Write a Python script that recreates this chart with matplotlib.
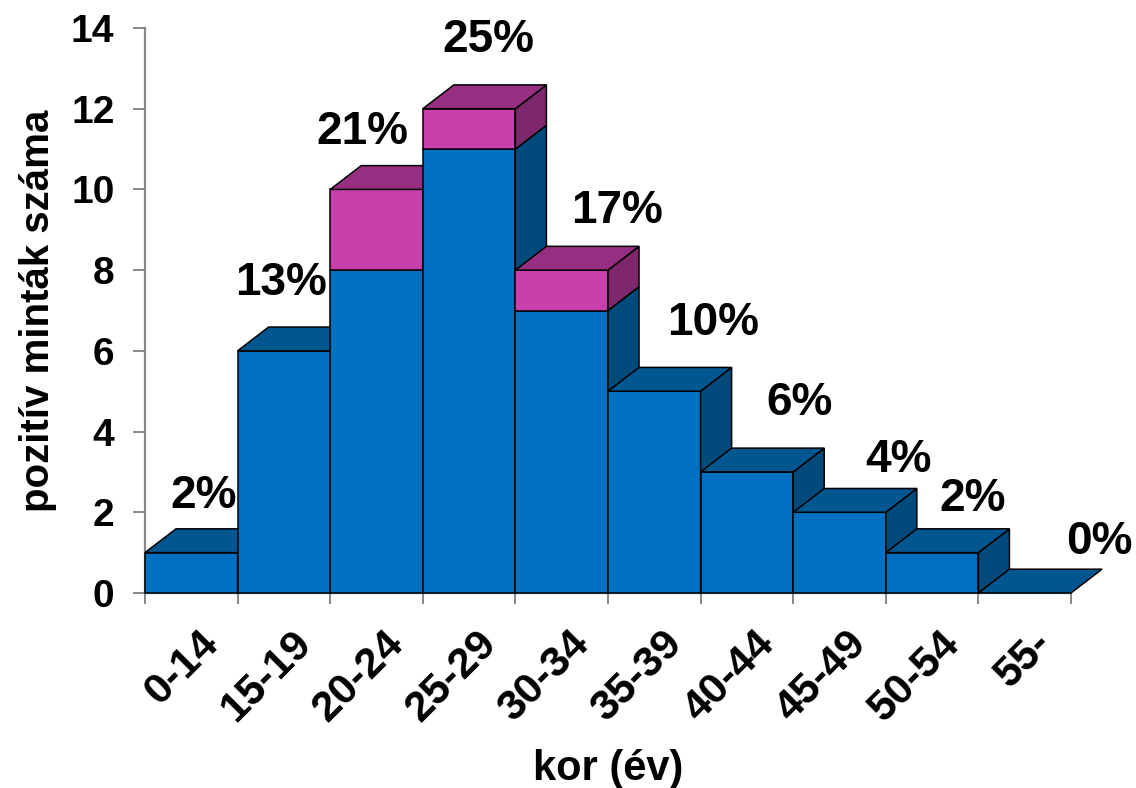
import numpy as np
import matplotlib.pyplot as plt
from matplotlib.patches import Polygon
import matplotlib.transforms as mtransforms

plt.rcParams['font.family'] = ['Liberation Sans', 'DejaVu Sans']
plt.rcParams['font.weight'] = 'bold'

# adatok
categories = ['0-14', '15-19', '20-24', '25-29', '30-34',
              '35-39', '40-44', '45-49', '50-54', '55-']
kek = [1, 6, 8, 11, 7, 5, 3, 2, 1, 0]
lila = [0, 0, 2, 1, 1, 0, 0, 0, 0, 0]

# százalék címkék eltolása (kategória egység, y egység a hasáb teteje fölött)
lbl_dx = [0.13, -0.03, -0.15, 0.21, 0.60, 0.63, 0.57, 0.64, 0.44, 0.81]
lbl_dy = [1.40, 1.69, 1.43, 1.70, 1.47, 1.68, 1.72, 1.29, 1.33, 1.26]

# színek: elülső, tető, oldal
c_kek = ['#0070C0', '#00568F', '#004A7C']
c_lila = ['#C840AC', '#962E81', '#7E276C']

depth_x = 0.335
depth_y = 0.59

total = np.array(kek) + np.array(lila)
pct = [int(np.floor(v / total.sum() * 100 + 0.5)) for v in total]

fig = plt.figure(figsize=(11.36, 7.88), dpi=100)
ax = fig.add_axes([145 / 1136, (788 - 593) / 788, (1071 - 145) / 1136, (593 - 28) / 788])
ax.set_xlim(0, 10)
ax.set_ylim(0, 14)


def face(pts, color):
    p = Polygon(pts, closed=True, facecolor=color, edgecolor='black',
                linewidth=1.1, clip_on=False, zorder=3)
    ax.add_patch(p)


def segment(x0, y0, y1, cols, top):
    if y1 > y0:
        face([(x0, y0), (x0 + 1, y0), (x0 + 1, y1), (x0, y1)], cols[0])
        face([(x0 + 1, y0), (x0 + 1 + depth_x, y0 + depth_y),
              (x0 + 1 + depth_x, y1 + depth_y), (x0 + 1, y1)], cols[2])
    if top:
        face([(x0, y1), (x0 + 1, y1), (x0 + 1 + depth_x, y1 + depth_y),
              (x0 + depth_x, y1 + depth_y)], cols[1])


for i in range(len(categories)):
    segment(i, 0, kek[i], c_kek, top=(lila[i] == 0))
    if lila[i] > 0:
        segment(i, kek[i], kek[i] + lila[i], c_lila, top=True)
    ax.text(i + 0.5 + lbl_dx[i], total[i] + lbl_dy[i], f'{pct[i]}%',
            ha='center', va='center', fontsize=33, fontweight='bold', zorder=5)

# tengelyek
for s in ['top', 'right']:
    ax.spines[s].set_visible(False)
for s in ['left', 'bottom']:
    ax.spines[s].set_color('#888888')
    ax.spines[s].set_linewidth(1.6)
    ax.spines[s].set_zorder(1)

ax.set_yticks(range(0, 15, 2))
ax.tick_params(axis='y', length=9, width=1.4, color='#888888', pad=13, labelsize=28)
ax.set_xticks(np.arange(11))
ax.set_xticklabels([])
ax.tick_params(axis='x', which='major', length=8, width=1.4, color='#888888')
ax.set_xticks(np.arange(10) + 0.5, categories, minor=True)
ax.tick_params(axis='x', which='minor', length=0, pad=22, labelsize=31)
shift = mtransforms.ScaledTranslation(0.07, 0, fig.dpi_scale_trans)
for lbl in ax.get_xticklabels(minor=True):
    lbl.set_rotation(45)
    lbl.set_ha('right')
    lbl.set_rotation_mode('anchor')
    lbl.set_transform(lbl.get_transform() + shift)

ax.set_ylabel('pozitív minták száma', fontsize=29, fontweight='bold', labelpad=10)
ax.set_xlabel('kor (év)', fontsize=30, fontweight='bold', labelpad=14)

fig.savefig('out.png', dpi=100)
